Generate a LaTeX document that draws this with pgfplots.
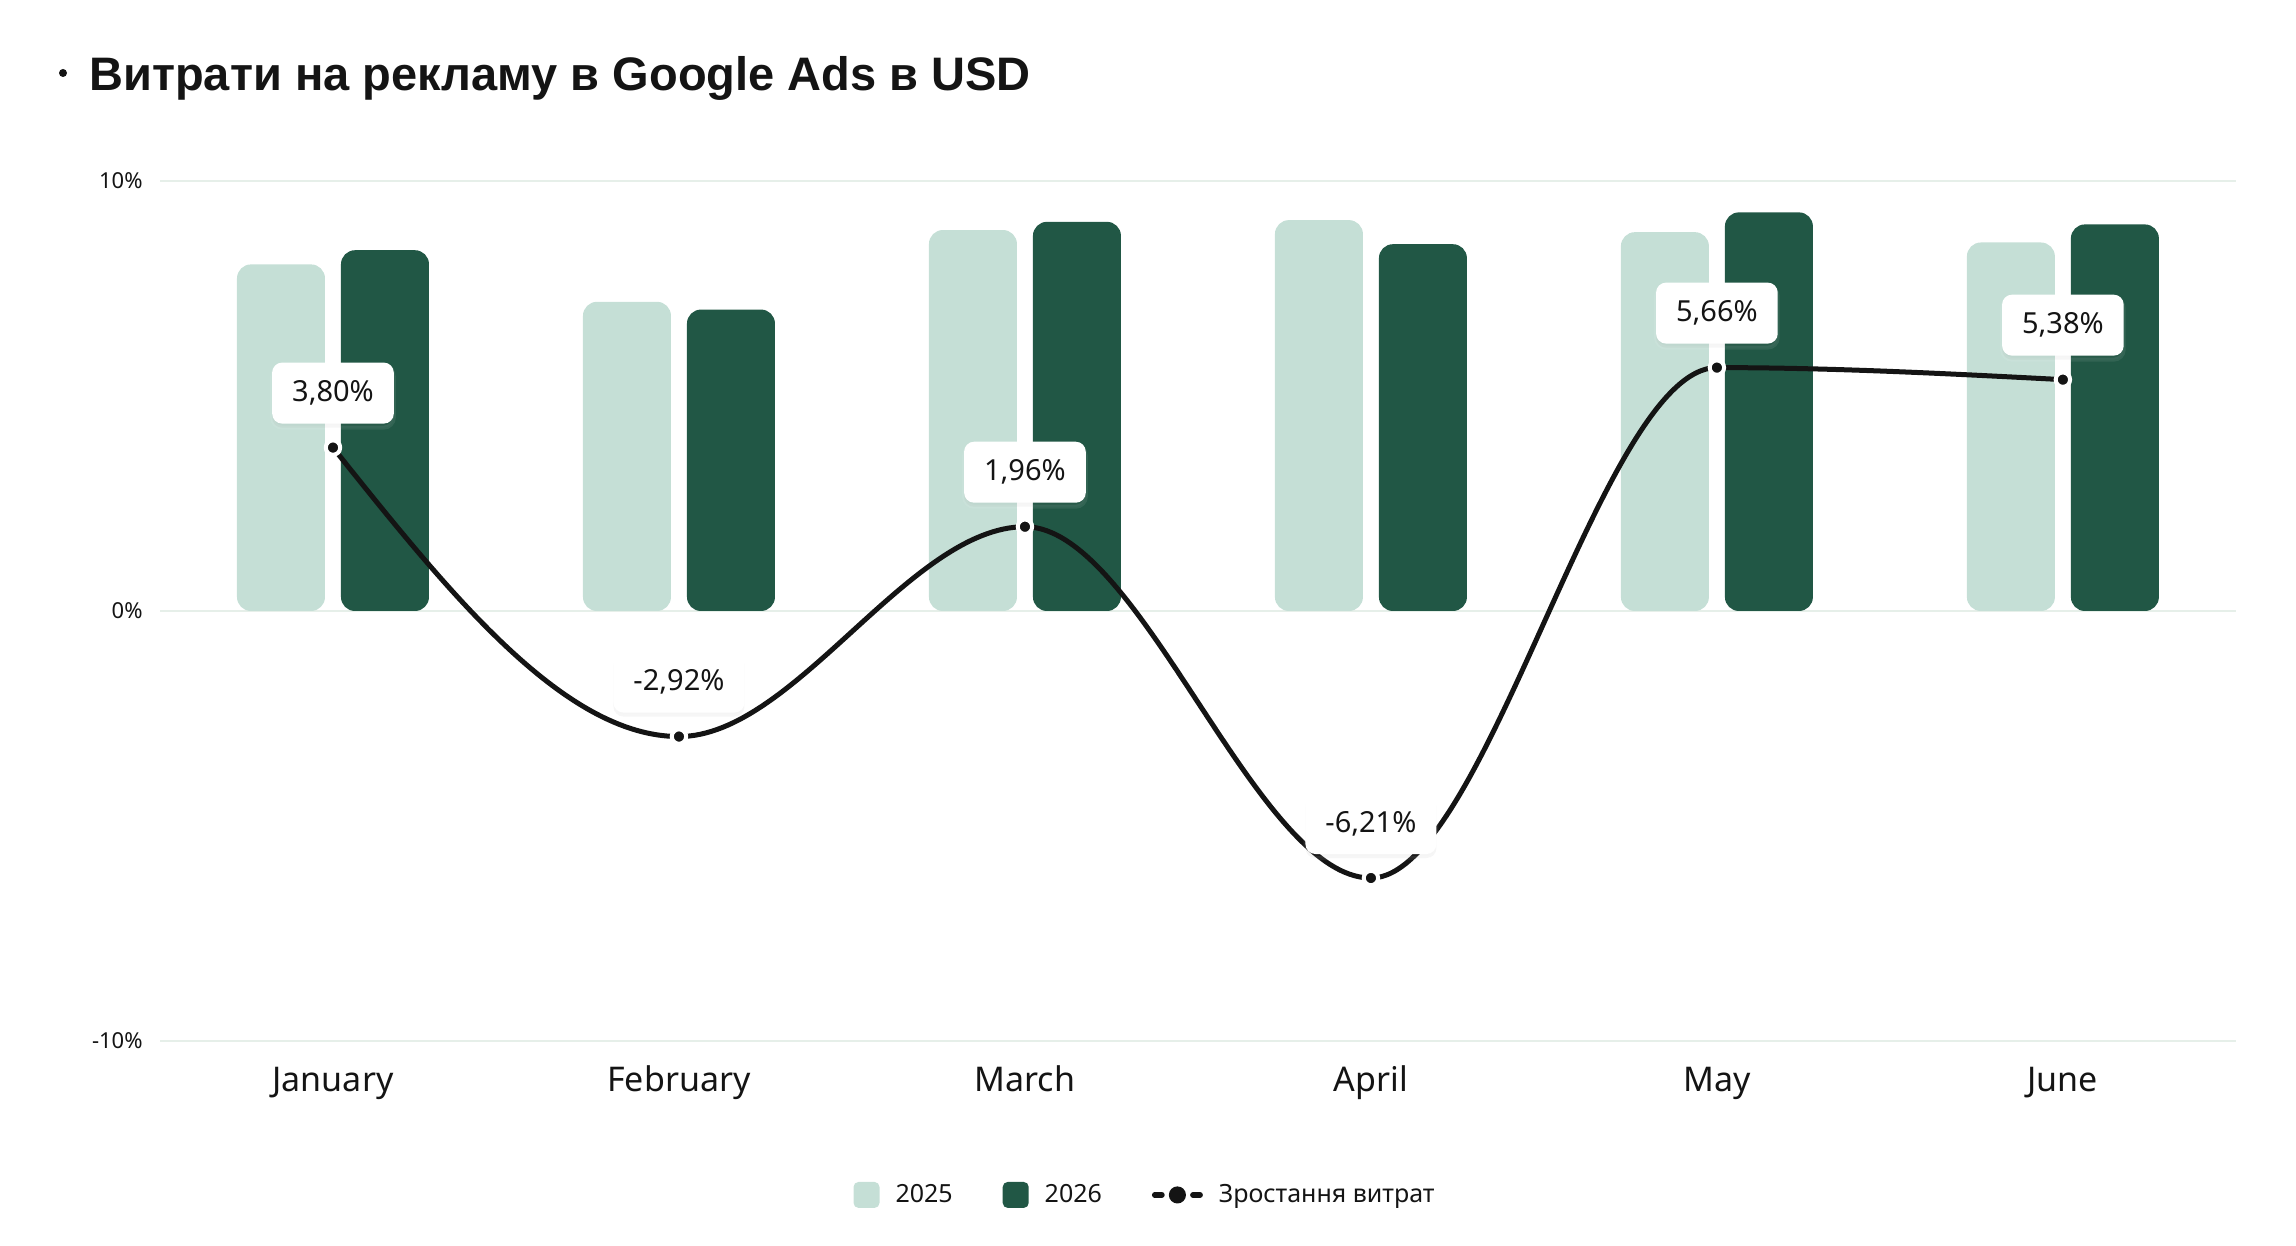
\documentclass[border=0pt]{standalone}
\usepackage{fontspec}
\setmainfont{Noto Sans}
\newfontfamily\titlefont{Liberation Sans}
\usepackage{pgfplots}
\pgfplotsset{compat=1.18}
\usetikzlibrary{shadows}
\definecolor{light}{HTML}{C5DFD6}
\definecolor{dark}{HTML}{215745}
\definecolor{ink}{HTML}{141414}
\definecolor{gridc}{HTML}{E6EFE9}
% plot handler: cubic segments, horizontal tangent at interior points (monotone-X style for alternating data)
\makeatletter
\def\pgfplothandlerhbezier{%
  \def\pgf@plotstreamstart{%
    \global\let\pgf@plotstreampoint=\hbz@first
    \global\let\pgf@plotstreamspecial=\pgfutil@gobble
    \global\let\pgf@plotstreamend=\hbz@end
  }%
}
\def\hbz@first#1{%
  \pgf@process{#1}%
  \xdef\hbz@px{\the\pgf@x}\xdef\hbz@py{\the\pgf@y}%
  \pgf@plot@first@action{\pgfqpoint{\hbz@px}{\hbz@py}}%
  \global\let\pgf@plotstreampoint=\hbz@second
}
\def\hbz@second#1{%
  \pgf@process{#1}%
  \xdef\hbz@qx{\the\pgf@x}\xdef\hbz@qy{\the\pgf@y}%
  \pgf@xa=\hbz@qx \advance\pgf@xa by -\hbz@px \divide\pgf@xa by 3 \advance\pgf@xa by \hbz@px
  \pgf@ya=\hbz@qy \advance\pgf@ya by -\hbz@py \divide\pgf@ya by 2 \advance\pgf@ya by \hbz@py
  \xdef\hbz@cx{\the\pgf@xa}\xdef\hbz@cy{\the\pgf@ya}%
  \global\let\pgf@plotstreampoint=\hbz@next
}
\def\hbz@next#1{%
  \pgf@process{#1}%
  \xdef\hbz@rx{\the\pgf@x}\xdef\hbz@ry{\the\pgf@y}%
  \pgf@xa=\hbz@qx \advance\pgf@xa by -\hbz@px \divide\pgf@xa by 3
  \pgf@xb=\hbz@qx \advance\pgf@xb by -\pgf@xa
  \edef\hbz@dx{\the\pgf@xb}%
  \pgfpathcurveto{\pgfqpoint{\hbz@cx}{\hbz@cy}}{\pgfqpoint{\hbz@dx}{\hbz@qy}}{\pgfqpoint{\hbz@qx}{\hbz@qy}}%
  \pgf@xa=\hbz@rx \advance\pgf@xa by -\hbz@qx \divide\pgf@xa by 3 \advance\pgf@xa by \hbz@qx
  \xdef\hbz@cx{\the\pgf@xa}\global\let\hbz@cy=\hbz@qy
  \global\let\hbz@px=\hbz@qx \global\let\hbz@py=\hbz@qy
  \global\let\hbz@qx=\hbz@rx \global\let\hbz@qy=\hbz@ry
}
\def\hbz@end{%
  \ifx\pgf@plotstreampoint\hbz@next
    \pgf@xa=\hbz@qx \advance\pgf@xa by -\hbz@px \divide\pgf@xa by 3
    \pgf@xb=\hbz@qx \advance\pgf@xb by -\pgf@xa
    \pgf@ya=\hbz@qy \advance\pgf@ya by -\hbz@py \divide\pgf@ya by 2
    \pgf@yb=\hbz@qy \advance\pgf@yb by -\pgf@ya
    \edef\hbz@dx{\the\pgf@xb}\edef\hbz@dy{\the\pgf@yb}%
    \pgfpathcurveto{\pgfqpoint{\hbz@cx}{\hbz@cy}}{\pgfqpoint{\hbz@dx}{\hbz@dy}}{\pgfqpoint{\hbz@qx}{\hbz@qy}}%
  \fi
}
\tikzset{hbezier/.code={\let\tikz@plot@handler=\pgfplothandlerhbezier}}
\makeatother
\begin{document}
\begin{tikzpicture}
\useasboundingbox (0,0) rectangle (1148pt,623pt);
\fill[ink] (31.5pt,586.5pt) circle (2pt);
\node[anchor=base west, inner sep=0pt, font=\titlefont\fontsize{23.5}{28}\selectfont\bfseries, text=ink] at (44.5pt,577.5pt) {Витрати на рекламу в Google Ads в USD};
\begin{axis}[
  scale only axis, width=1038pt, height=430pt, anchor=south west, at={(80pt,102.5pt)},
  xmin=-0.5, xmax=5.5, ymin=-10, ymax=10,
  xtick={0,1,2,3,4,5}, xticklabels={January,February,March,April,May,June},
  ytick={-10,0,10}, yticklabels={-10\%,0\%,10\%},
  axis line style={draw=none}, major tick length=0pt,
  ymajorgrids, grid style={gridc, line width=1pt},
  xticklabel style={font=\fontsize{17}{20}\selectfont, text=ink, anchor=base, inner sep=0pt, yshift=-25.5pt},
  yticklabel style={font=\fontsize{11}{13}\selectfont, text=ink, anchor=east, inner sep=0pt, xshift=-8.5pt},
  clip=false,
  legend columns=3,
  legend style={draw=none, fill=none, at={(0.475,-0.179)}, anchor=center,
    font=\fontsize{12.5}{15}\selectfont, text=ink,
    /tikz/every odd column/.append style={column sep=6pt},
    /tikz/every even column/.append style={column sep=23pt}},
]
\addplot[ybar, bar width=44pt, bar shift=-26pt, fill=light, draw=none, rounded corners=7pt,
  legend image code/.code={\fill[light, rounded corners=2.5pt] (0pt,-6.5pt) rectangle (13pt,6.5pt);}]
  coordinates {(0,8.06) (1,7.19) (2,8.86) (3,9.09) (4,8.81) (5,8.57)};
\addlegendentry{2025}
\addplot[ybar, bar width=44pt, bar shift=26pt, fill=dark, draw=none, rounded corners=7pt,
  legend image code/.code={\fill[dark, rounded corners=2.5pt] (0pt,-6.5pt) rectangle (13pt,6.5pt);}]
  coordinates {(0,8.39) (1,7.01) (2,9.05) (3,8.53) (4,9.27) (5,8.99)};
\addlegendentry{2026}
\addplot[hbezier, ink, line width=2.5pt,
  mark=*, mark size=3.6pt, mark options={fill=ink, draw=white, line width=2pt},
  point meta=y,
  nodes near coords={\pgfmathprintnumber[fixed, fixed zerofill, precision=2, use comma, assume math mode=true]{\pgfplotspointmeta}\%},
  nodes near coords style={fill=white, rounded corners=5pt, inner xsep=10pt, inner ysep=0pt,
    minimum height=30.5pt, anchor=south, yshift=11pt, font=\fontsize{14.5}{17}\selectfont, text=ink,
    drop shadow={opacity=0.08, shadow xshift=0pt, shadow yshift=-2pt}},
  legend image code/.code={\draw[ink, line width=2.8pt, line cap=round] (1.4pt,0pt)--(5pt,0pt); \draw[ink, line width=2.8pt, line cap=round] (20.5pt,0pt)--(24.1pt,0pt); \fill[ink] (12.75pt,0pt) circle (3pt);}]
  coordinates {(0,3.80) (1,-2.92) (2,1.96) (3,-6.21) (4,5.66) (5,5.38)};
\addlegendentry{Зростання витрат}
\end{axis}
\end{tikzpicture}
\end{document}
